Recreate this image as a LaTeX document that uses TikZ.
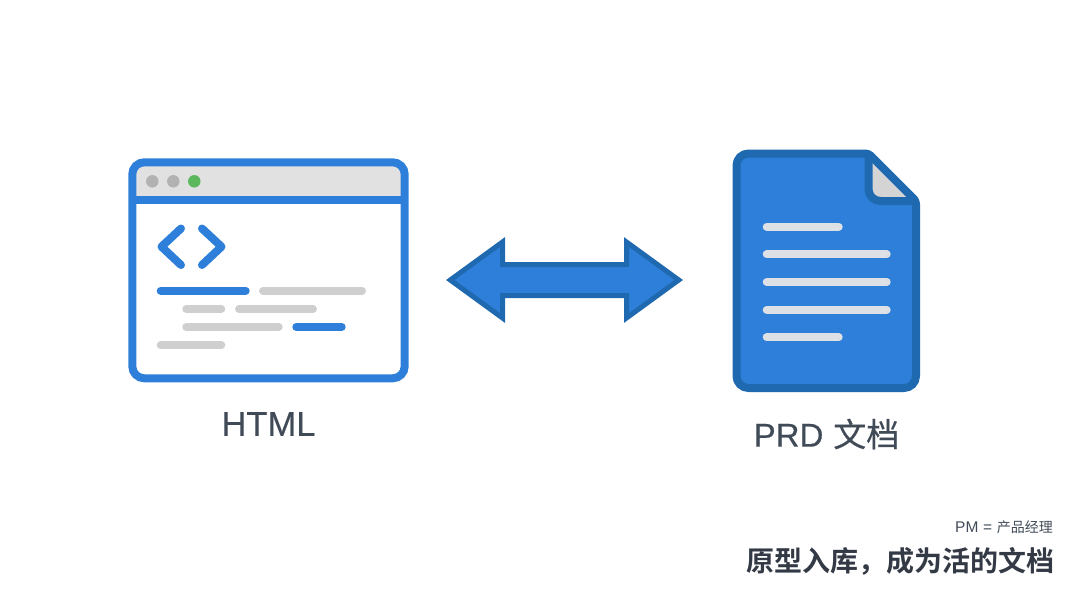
\documentclass[tikz,border=0pt]{standalone}
\usepackage{fontspec}
\setmainfont{Liberation Sans}
\newfontfamily\cjk{Noto Sans CJK SC}
\newfontfamily\cjkbold{Noto Sans CJK SC Bold}
\newfontfamily\heavylatin[FakeBold=0.35]{Liberation Sans}
\newfontfamily\heavycjk[FakeBold=0.35]{Noto Sans CJK SC}
\definecolor{appblue}{HTML}{2E7FD9}
\definecolor{docblue}{HTML}{1F69B0}
\definecolor{barline}{HTML}{CFCFCF}
\definecolor{paleline}{HTML}{DDE1E5}
\definecolor{barfill}{HTML}{E1E1E1}
\definecolor{dotgray}{HTML}{B2B2B2}
\definecolor{dotgreen}{HTML}{5CB85C}
\definecolor{labelgray}{HTML}{414B58}
\definecolor{captiongray}{HTML}{333A45}

\begin{document}
\begin{tikzpicture}[x=1pt,y=-1pt,
    dot/.style={circle,inner sep=0,minimum size=12.5},
    bar/.style={line width=8,line cap=round},
    iconlabel/.style={text=labelgray,inner sep=0,anchor=center}]
  \useasboundingbox (0,0) rectangle (1080,603);

  % browser window
  \fill[barfill,rounded corners=8] (134,164) rectangle (403,200);
  \draw[appblue,line width=8,rounded corners=12] (132.3,162.3) rectangle (404.7,378.3);
  \draw[appblue,line width=8] (132.3,199.8) -- (404.7,199.8);
  \node[dot,fill=dotgray]  (close) at (152.3,181.3) {};
  \node[dot,fill=dotgray]  (hide)  at (173.3,181.3) {};
  \node[dot,fill=dotgreen] (grow)  at (194.3,181.3) {};

  \draw[appblue,line width=8,line cap=round,line join=round] (181,228.5) -- (161.5,246.7) -- (181,265);
  \draw[appblue,line width=8,line cap=round,line join=round] (202,228.5) -- (221.5,246.7) -- (202,265);

  \draw[bar,appblue]  (160.7,290.7) -- (245.7,290.7);
  \draw[bar,barline]  (263,290.7) -- (362,290.7);
  \draw[bar,barline]  (186.3,309) -- (221.3,309);
  \draw[bar,barline]  (239,309) -- (313,309);
  \draw[bar,barline]  (186.3,327) -- (278.7,327);
  \draw[bar,appblue]  (296.3,327) -- (341.7,327);
  \draw[bar,barline]  (160.7,345.3) -- (221.3,345.3);

  % double arrow
  \draw[fill=appblue,draw=docblue,line width=5,miter limit=10]
    (450.3,280) -- (502.5,242) -- (502.5,264.5) -- (626.5,264.5) -- (626.5,242)
    -- (678.7,280) -- (626.5,318) -- (626.5,295.5) -- (502.5,295.5) -- (502.5,318) -- cycle;

  % document
  \fill[appblue,rounded corners=12]
    (868.5,153.5) -- (736.5,153.5) -- (736.5,388) -- (916,388) -- (916,201) -- cycle;
  \fill[barline!90!white] (868.5,153.5) -- (916,201) -- (880,201) -- (868.5,190) -- cycle;
  \draw[docblue,line width=8,line join=round,rounded corners=12]
    (868.5,153.5) -- (868.5,201) -- (916,201);
  \draw[docblue,line width=8,line join=round,rounded corners=12]
    (800,153.5) -- (736.5,153.5) -- (736.5,388) -- (916,388) -- (916,300)
    [rounded corners=3] -- (916,201) -- (868.5,153.5) -- (800,153.5);

  \draw[bar,paleline] (766.7,226.7) -- (838.7,226.7);
  \draw[bar,paleline] (766.7,254.3) -- (886.7,254.3);
  \draw[bar,paleline] (766.7,282) -- (886.7,282);
  \draw[bar,paleline] (766.7,309.7) -- (886.7,309.7);
  \draw[bar,paleline] (766.7,337.3) -- (838.7,337.3);

  % labels
  \node[iconlabel,font=\fontsize{34.5}{34}\selectfont] (html) at (268.5,424) {\heavylatin HTML};
  \node[iconlabel,font=\fontsize{33}{33}\selectfont] (prd) at (826.5,434) {\heavylatin PRD\hspace{0.3em}\heavycjk 文档};

  \node[text=labelgray,inner sep=0,anchor=east,font=\fontsize{14}{14}\selectfont] (note) at (1053,527) {{\fontsize{15.5}{14}\selectfont PM\hspace{0.3em}=\hspace{0.3em}}{\cjk 产品经理}};
  \node[text=captiongray,inner sep=0,anchor=east,font=\fontsize{28}{28}\selectfont] (caption) at (1055,561) {\cjkbold 原型入库，成为活的文档};
\end{tikzpicture}
\end{document}
